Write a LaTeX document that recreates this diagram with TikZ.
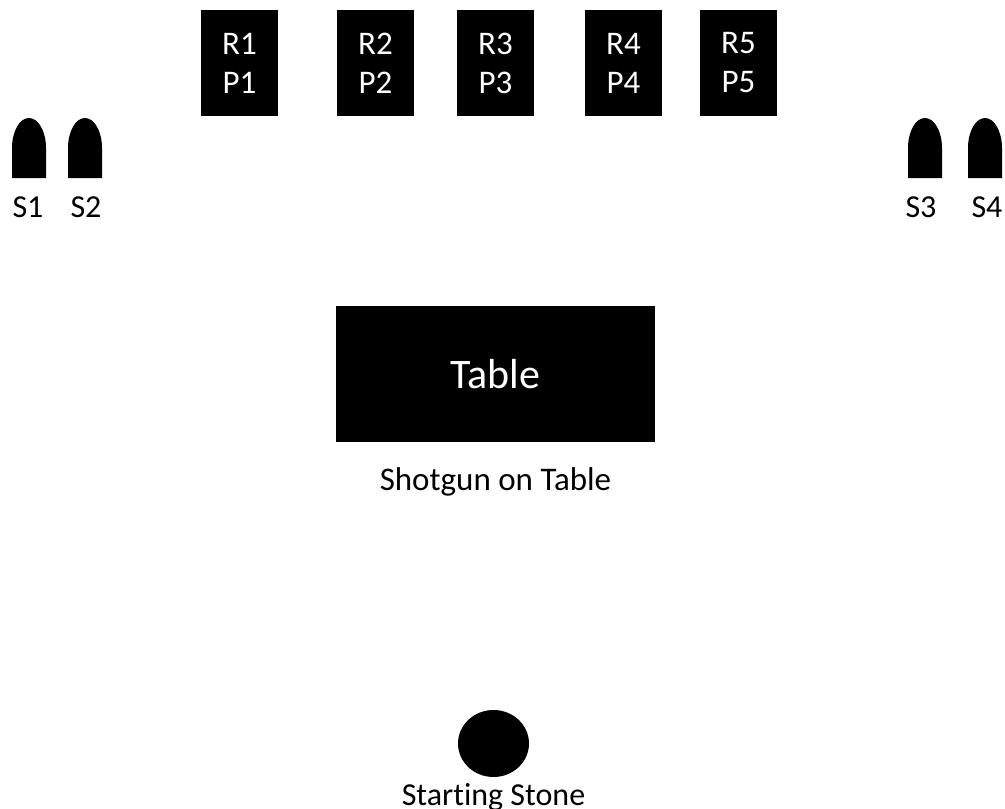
\documentclass[tikz,border=0pt]{standalone}
\usepackage{fontspec}
\setmainfont[Ligatures=NoCommon]{Carlito}
\usetikzlibrary{
    positioning,
    shapes.geometric
}
\tikzstyle{station} = [
    rectangle,
    fill=black,
    text=white,
    minimum width=77pt,
    minimum height=106pt,
    inner sep=0pt,
    align=center,
    font=\fontsize{33}{39}\selectfont
]
\tikzstyle{tablebox} = [
    rectangle,
    fill=black,
    text=white,
    minimum width=319pt,
    minimum height=136pt,
    inner sep=0pt,
    font=\fontsize{42}{50}\selectfont
]
\tikzstyle{caption} = [
    inner sep=0pt,
    font=\fontsize{32}{38}\selectfont
]
\tikzstyle{stone} = [
    ellipse,
    fill=black,
    minimum width=71pt,
    minimum height=67pt,
    inner sep=0pt
]
\tikzset{
    shell/.pic={
        \fill (-17,0) -- (-17,-30)
            arc[start angle=180, end angle=360, x radius=17, y radius=30]
            -- (17,0) -- cycle;
    }
}

\begin{document}
\begin{tikzpicture}[x=1pt, y=-1pt]
        \useasboundingbox (0,0) rectangle (1005,809);

        % Shooting positions
        \node[station] (r1) at (239.5,63) {R1\\P1};
        \node[station] (r2) at (375.5,63) {R2\\P2};
        \node[station] (r3) at (495.5,63) {R3\\P3};
        \node[station] (r4) at (623.5,63) {R4\\P4};
        \node[station] (r5) at (738.5,63) {R5\\P5};

        % Shells
        \pic (sh1) at (29,178) {shell};
        \pic (sh2) at (85,178) {shell};
        \pic (sh3) at (925,178) {shell};
        \pic (sh4) at (985,178) {shell};

        \node[caption] (s1) at (28,207) {S1};
        \node[caption] (s2) at (86,207) {S2};
        \node[caption] (s3) at (921,207) {S3};
        \node[caption] (s4) at (987,207) {S4};

        % Table
        \node[tablebox] (table) at (495.5,374) {Table};
        \node[caption, font=\fontsize{33}{39}\selectfont,
            below=25pt of table] (shotgun) {Shotgun on Table};

        % Start
        \node[stone] (start) at (493.5,743.5) {};
        \node[caption, below=6pt of start] (startlabel) {Starting Stone};
    \end{tikzpicture}
\end{document}
